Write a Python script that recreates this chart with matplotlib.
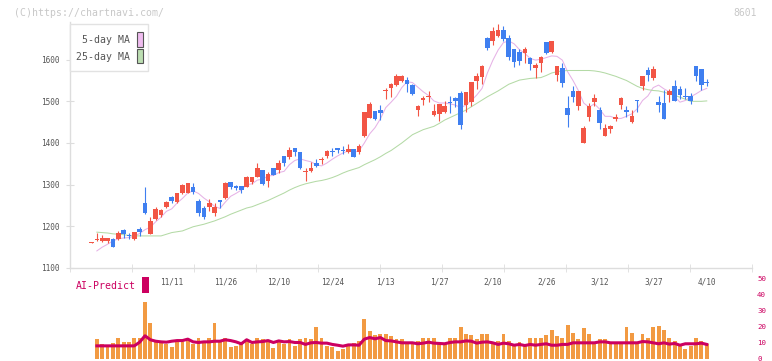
import matplotlib
matplotlib.use("Agg")
import matplotlib.pyplot as plt
import numpy as np
from matplotlib.patches import Rectangle

# 8601 daily candles, oldest first (yen)
opens = [1161, 1167, 1165, 1165, 1170, 1170, 1190, 1178, 1170, 1194,
         1257, 1182, 1218, 1228, 1247, 1271, 1258, 1279, 1281, 1294,
         1261, 1245, 1247, 1231, 1263, 1268, 1306, 1297, 1297, 1295,
         1306, 1319, 1335, 1308, 1340, 1335, 1369, 1367, 1388, 1378,
         1330, 1332, 1351, 1358, 1369, 1382, 1387, 1382, 1378, 1385,
         1378, 1417, 1461, 1477, 1479, 1525, 1532, 1540, 1549, 1551,
         1540, 1479, 1503, 1510, 1468, 1470, 1474, 1499, 1508, 1519,
         1492, 1498, 1549, 1559, 1652, 1645, 1658, 1671, 1653, 1625,
         1618, 1617, 1604, 1580, 1593, 1642, 1618, 1564, 1580, 1485,
         1524, 1490, 1399, 1463, 1498, 1479, 1417, 1434, 1458, 1492,
         1479, 1450, 1503, 1537, 1575, 1556, 1498, 1497, 1516, 1538,
         1529, 1513, 1513, 1584, 1577, 1546]
highs = [1162, 1183, 1179, 1173, 1172, 1188, 1194, 1183, 1187, 1199,
         1295, 1223, 1247, 1241, 1261, 1274, 1281, 1302, 1304, 1305,
         1266, 1249, 1266, 1257, 1263, 1306, 1306, 1299, 1297, 1320,
         1319, 1352, 1336, 1330, 1341, 1359, 1369, 1390, 1388, 1378,
         1340, 1355, 1361, 1367, 1384, 1387, 1388, 1393, 1398, 1385,
         1398, 1474, 1498, 1478, 1492, 1532, 1545, 1565, 1564, 1559,
         1542, 1492, 1513, 1524, 1494, 1493, 1501, 1514, 1510, 1524,
         1523, 1546, 1567, 1588, 1655, 1679, 1686, 1681, 1660, 1625,
         1625, 1630, 1607, 1591, 1609, 1642, 1645, 1586, 1591, 1513,
         1538, 1524, 1441, 1497, 1518, 1486, 1446, 1444, 1470, 1511,
         1489, 1479, 1503, 1562, 1583, 1585, 1513, 1527, 1530, 1551,
         1537, 1532, 1519, 1584, 1577, 1554]
lows = [1161, 1166, 1163, 1159, 1150, 1167, 1172, 1169, 1168, 1177,
        1230, 1181, 1216, 1222, 1243, 1255, 1256, 1278, 1279, 1278,
        1226, 1217, 1238, 1225, 1244, 1266, 1290, 1287, 1281, 1294,
        1301, 1318, 1300, 1295, 1323, 1329, 1346, 1362, 1370, 1338,
        1309, 1331, 1342, 1350, 1365, 1370, 1375, 1374, 1376, 1367,
        1374, 1414, 1460, 1455, 1455, 1506, 1511, 1538, 1547, 1522,
        1516, 1464, 1492, 1498, 1466, 1453, 1473, 1471, 1487, 1434,
        1474, 1489, 1530, 1541, 1623, 1636, 1655, 1645, 1599, 1583,
        1588, 1593, 1575, 1556, 1570, 1613, 1615, 1548, 1535, 1439,
        1498, 1479, 1399, 1453, 1489, 1434, 1417, 1425, 1452, 1481,
        1463, 1447, 1474, 1527, 1550, 1551, 1474, 1458, 1498, 1500,
        1506, 1506, 1494, 1550, 1527, 1537]
closes = [1162, 1169, 1172, 1172, 1151, 1185, 1182, 1176, 1186, 1186,
          1231, 1213, 1241, 1239, 1258, 1261, 1279, 1299, 1303, 1282,
          1231, 1223, 1257, 1247, 1258, 1305, 1295, 1292, 1287, 1319,
          1318, 1341, 1302, 1326, 1324, 1353, 1353, 1383, 1378, 1341,
          1334, 1341, 1345, 1362, 1380, 1378, 1382, 1380, 1385, 1367,
          1393, 1474, 1493, 1457, 1471, 1528, 1541, 1562, 1561, 1541,
          1518, 1489, 1508, 1514, 1476, 1493, 1488, 1497, 1502, 1444,
          1522, 1546, 1561, 1584, 1629, 1668, 1672, 1650, 1607, 1594,
          1597, 1626, 1590, 1588, 1606, 1615, 1644, 1586, 1543, 1468,
          1511, 1524, 1436, 1489, 1508, 1449, 1436, 1440, 1463, 1508,
          1474, 1465, 1500, 1561, 1564, 1577, 1492, 1458, 1524, 1502,
          1516, 1510, 1502, 1562, 1540, 1543]

ma5 = [np.nan, 1141, 1150, 1157, 1165, 1170, 1172, 1173, 1176, 1183,
       1192, 1198, 1211, 1222, 1236, 1242, 1256, 1267, 1280, 1285,
       1279, 1268, 1259, 1248, 1243, 1258, 1272, 1279, 1287, 1300,
       1302, 1311, 1313, 1321, 1322, 1329, 1332, 1348, 1358, 1362,
       1358, 1355, 1348, 1345, 1352, 1361, 1369, 1376, 1381, 1378,
       1381, 1400, 1422, 1437, 1458, 1485, 1498, 1512, 1533, 1547,
       1545, 1534, 1523, 1514, 1501, 1496, 1496, 1494, 1491, 1485,
       1491, 1502, 1515, 1531, 1568, 1598, 1623, 1641, 1645, 1638,
       1624, 1615, 1603, 1599, 1601, 1605, 1609, 1608, 1599, 1571,
       1550, 1526, 1496, 1486, 1494, 1481, 1464, 1464, 1459, 1459,
       1464, 1470, 1482, 1502, 1513, 1533, 1539, 1530, 1523, 1511,
       1498, 1502, 1511, 1518, 1526, 1531]
ma25 = [np.nan, 1186, 1185, 1184, 1182, 1181, 1180, 1178, 1177, 1177,
        1177, 1177, 1177, 1177, 1181, 1185, 1187, 1189, 1194, 1199,
        1202, 1205, 1209, 1213, 1218, 1223, 1229, 1234, 1239, 1244,
        1247, 1252, 1257, 1262, 1268, 1274, 1280, 1287, 1293, 1298,
        1302, 1305, 1308, 1310, 1313, 1317, 1322, 1328, 1333, 1337,
        1341, 1348, 1354, 1360, 1367, 1375, 1382, 1391, 1400, 1410,
        1420, 1426, 1432, 1436, 1440, 1447, 1455, 1461, 1467, 1473,
        1479, 1487, 1495, 1503, 1511, 1518, 1525, 1533, 1541, 1546,
        1551, 1553, 1555, 1556, 1557, 1562, 1568, 1571, 1573, 1574,
        1574, 1574, 1574, 1574, 1573, 1571, 1568, 1564, 1560, 1555,
        1550, 1543, 1536, 1531, 1528, 1526, 1525, 1522, 1518, 1514,
        1510, 1505, 1500, 1500, 1500, 1501]

# lower panel: volume bars and the AI-Predict line
volume = [np.nan, 11.9, 8.8, 7.1, 9.4, 12.5, 10.6, 10.6, 13.1, 13.1,
          35.6, 21.9, 10.6, 9.4, 8.8, 7.1, 10.6, 10.6, 11.9, 8.8,
          12.5, 9.4, 12.5, 21.9, 10.0, 13.1, 7.1, 7.7, 10.6, 11.9,
          8.8, 12.5, 11.9, 10.6, 6.5, 10.0, 8.8, 11.9, 8.1, 11.9,
          13.1, 11.9, 19.4, 13.1, 7.5, 6.9, 4.4, 6.2, 8.1, 9.4,
          11.2, 24.4, 16.9, 14.4, 15.6, 15.6, 13.8, 11.9, 11.9, 10.6,
          10.6, 11.2, 12.5, 12.5, 12.5, 9.4, 8.8, 12.5, 13.1, 19.4,
          15.6, 14.4, 11.9, 15.0, 15.0, 10.6, 11.2, 15.6, 11.2, 7.5,
          10.6, 7.5, 13.1, 13.1, 13.1, 14.4, 18.1, 13.8, 13.1, 21.2,
          16.2, 11.9, 18.8, 15.6, 8.8, 11.9, 11.9, 8.8, 9.4, 9.4,
          19.4, 16.2, 8.8, 15.0, 13.1, 19.4, 20.6, 17.5, 13.1, 11.2,
          7.5, 6.2, 7.5, 12.5, 11.2, 8.8]
ai_predict = [np.nan, 7.9, 7.9, 7.9, 7.9, 7.9, 7.9, 7.9, 7.9, 10.2,
              14.2, 11.7, 10.8, 10.4, 10.2, 10.8, 11.2, 11.2, 12.1, 10.4,
              10.0, 10.4, 10.4, 10.8, 10.8, 11.7, 11.2, 10.4, 9.2, 11.7,
              10.0, 10.4, 10.6, 11.2, 10.0, 11.0, 10.4, 10.6, 10.0, 10.0,
              8.8, 9.8, 10.0, 9.6, 9.6, 8.8, 8.3, 7.7, 8.5, 8.5,
              8.3, 12.1, 13.1, 12.3, 13.1, 11.2, 11.0, 10.4, 9.8, 9.8,
              9.8, 9.2, 9.6, 10.2, 9.6, 9.4, 9.2, 10.0, 10.4, 10.4,
              11.0, 10.8, 9.6, 10.2, 10.4, 9.8, 8.8, 9.6, 9.2, 8.3,
              8.8, 8.1, 8.8, 8.3, 8.8, 9.2, 8.3, 8.3, 8.8, 8.8,
              9.8, 9.8, 9.8, 9.8, 9.8, 10.4, 10.4, 9.8, 9.8, 9.8,
              9.8, 9.8, 9.8, 10.6, 10.4, 9.8, 9.2, 9.8, 9.0, 9.4,
              8.3, 9.2, 9.2, 9.2, 9.6, 8.8]

tick_labels = ["11/11", "11/26", "12/10", "12/24", "1/13", "1/27",
               "2/10", "2/26", "3/12", "3/27", "4/10"]

RED = "#f25545"
BLUE = "#3f7ff0"
PINK = "#e6b2e6"
GREEN = "#b4daa6"
CRIMSON = "#cc0060"
GREY = "#555555"
LINE = "#dddddd"
MONO = "DejaVu Sans Mono"

W, H = 772, 361
fig = plt.figure(figsize=(W / 100, H / 100), dpi=100)


def px(x, y):
    return x / W, 1 - y / H


x = np.arange(len(closes))
xlim = (-4.02, 123.46)

# lower panel first, with a clear background so the date labels show
ax2 = fig.add_axes([70 / W, 2.5 / H, 682 / W, 88.5 / H])
ax2.patch.set_visible(False)
ax2.bar(x, volume, width=0.72, color="#f29a42", linewidth=0)
ax2.plot(x, ai_predict, color=CRIMSON, linewidth=2.2)
ax2.set_xlim(*xlim)
ax2.set_ylim(0, 55.3)
for s in ax2.spines.values():
    s.set_visible(False)
ax2.set_xticks([])
ax2.yaxis.tick_right()
ax2.set_yticks(range(0, 60, 10))
ax2.tick_params(axis="y", length=0, labelsize=5.4, labelcolor=CRIMSON, pad=3.6)
for t in ax2.get_yticklabels():
    t.set_family(MONO)

# price panel
ax = fig.add_axes([70 / W, (H - 268) / H, 682 / W, 246 / H])
ax.patch.set_visible(False)
o = np.array(opens, float)
c = np.array(closes, float)
col = np.where(c >= o, RED, BLUE)
ax.vlines(x, lows, highs, colors=col, linewidth=0.8, zorder=3)
ax.bar(x, np.maximum(np.abs(c - o), 2.2), bottom=np.minimum(o, c),
       width=0.86, color=col, linewidth=0, zorder=4)
ax.plot(x, ma5, color=PINK, linewidth=0.75, zorder=2)
ax.plot(x, ma25, color=GREEN, linewidth=0.75, zorder=2)

ax.set_xlim(*xlim)
ax.set_ylim(1100, 1690.4)
for s in ("top", "right"):
    ax.spines[s].set_visible(False)
for s in ("left", "bottom"):
    ax.spines[s].set_color(LINE)
    ax.spines[s].set_linewidth(1)
ax.set_yticks(range(1100, 1700, 100))
ax.tick_params(axis="y", direction="inout", length=5.5, color=LINE,
               labelsize=5.6, labelcolor=GREY, pad=5)
ax.set_xticks(range(15, len(closes), 10))
ax.set_xticklabels(tick_labels)
ax.tick_params(axis="x", length=0, labelsize=5.6, labelcolor=GREY, pad=7)
ax.set_xticks(np.linspace(xlim[0], xlim[1], 12), minor=True)
ax.tick_params(axis="x", which="minor", direction="inout", length=5.5,
               color=LINE)
for t in ax.get_xticklabels() + ax.get_yticklabels():
    t.set_family(MONO)

# legend box
fig.patches.append(Rectangle(px(70.3, 71), 78 / W, 47 / H, transform=fig.transFigure,
                             facecolor="white", edgecolor="#e2e2e2", linewidth=1, zorder=5))
fig.patches.append(Rectangle(px(137, 46.5), 5.7 / W, 14.7 / H, transform=fig.transFigure,
                             facecolor="#efbcef", edgecolor=GREY, linewidth=0.8, zorder=6))
fig.patches.append(Rectangle(px(137, 63.3), 5.7 / W, 14.7 / H, transform=fig.transFigure,
                             facecolor="#bcdeb2", edgecolor=GREY, linewidth=0.8, zorder=6))
fig.text(*px(129.5, 40), "5-day MA", ha="right", va="center", fontsize=7.1,
         color=GREY, family=MONO, zorder=7)
fig.text(*px(129.5, 57.3), "25-day MA", ha="right", va="center", fontsize=7.1,
         color=GREY, family=MONO, zorder=7)

# AI-Predict label
fig.text(*px(76, 286), "AI-Predict", ha="left", va="center", fontsize=7.1,
         color=CRIMSON, family=MONO)
fig.patches.append(Rectangle(px(142, 292.7), 6.7 / W, 15.7 / H, transform=fig.transFigure,
                             facecolor=CRIMSON, edgecolor="none"))

# watermark and code
fig.text(*px(14, 12.5), "(C)https://chartnavi.com/", ha="left", va="center",
         fontsize=7.15, color="#c8c8c8", family=MONO)
fig.text(*px(757, 12.5), "8601", ha="right", va="center", fontsize=7.0,
         color="#c8c8c8", family=MONO)

fig.savefig("out.png", dpi=100)
